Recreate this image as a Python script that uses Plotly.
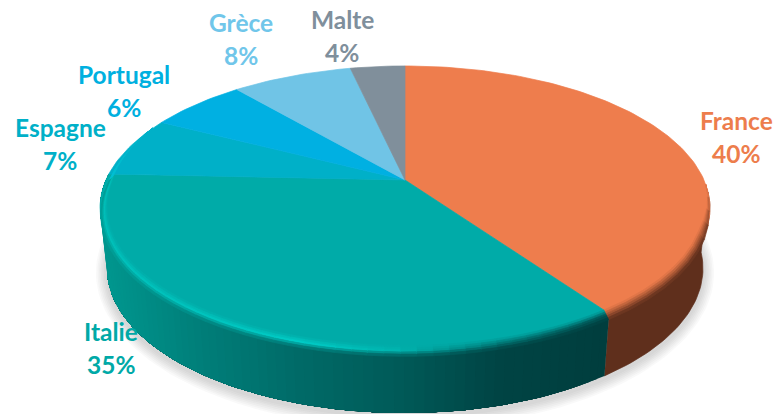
import numpy as np
import plotly.graph_objects as go

# --- data (unrounded estimates; labels show them rounded) ---
categories = ["France", "Italie", "Espagne", "Portugal", "Grèce", "Malte"]
shares = [40.3, 35.4, 6.9, 6.2, 7.7, 3.5]

# --- style ---
top_colors = [(238, 125, 77), (0, 171, 168), (0, 176, 200), (0, 176, 226), (112, 196, 230), (128, 143, 155)]
label_colors = ["#ed7d4c", "#00a9a7", "#00b0c8", "#00b0e0", "#70c6ea", "#7f8f9c"]
label_pos = [(736, 120), (111, 331), (60, 127), (124, 74), (241, 22), (342, 19)]
LINE_GAP = 33
FONT = "Lato, Carlito, Calibri, sans-serif"
CX, CY, R, B, P = 405.0, 180.0, 299.0, 136.5, 0.197
DEPTH = 60.0


def project(theta, r=1.0, z=0.0):
    s, c = np.sin(theta), np.cos(theta)
    f = 1.0 / (1.0 + P * r * c)
    x = CX + R * r * s * f * (1 - 0.023 * z)
    y = CY - B * r * c * f * (1 + 0.018 * z) + DEPTH * z
    return x, y


def rgb(c):
    return "rgb(%d,%d,%d)" % tuple(int(round(v)) for v in c)


def mix(a, b, t):
    return tuple(a[i] + (b[i] - a[i]) * t for i in range(3))


def ramp(x, xs, cols):
    return tuple(float(np.interp(x, xs, [c[i] for c in cols])) for i in range(3))


TEAL_X = [105, 200, 300, 400, 500, 600]
TEAL_SIDE = [(0, 150, 142), (0, 126, 121), (0, 106, 103), (0, 90, 88), (0, 68, 68), (0, 62, 62)]
TEAL_HI = [(0, 192, 186), (0, 196, 190), (0, 204, 198), (0, 180, 175), (0, 120, 118), (0, 90, 90)]
BROWN = (95, 47, 28)


def side_color(i, x):
    if i == 0:
        return BROWN
    return ramp(x, TEAL_X, TEAL_SIDE)


def hi_color(i, x):
    if i == 0:
        return mix(top_colors[0], BROWN, 0.5)
    if i == 2:
        return (0, 196, 212)
    return ramp(x, TEAL_X, TEAL_HI)


fig = go.Figure()


def poly(xs, ys, col, outline=True):
    fig.add_trace(go.Scatter(
        x=np.round(xs, 2), y=np.round(ys, 2), mode="lines", fill="toself",
        fillcolor=col, line=dict(color=col, width=0.7) if outline else dict(width=0),
        hoverinfo="skip", showlegend=False))


total = sum(shares)
edges = np.cumsum([0] + shares) / total * 2 * np.pi

# soft shadow beneath the disc
th = np.linspace(0, 2 * np.pi, 180)
for k in range(7, 0, -1):
    sx, sy = project(th, 1.0, 1.0)
    mx = sx.mean()
    my = sy.mean()
    grow = k * 1.6
    poly(mx + (sx - mx) * (1 + grow / 300), my + 3 + (sy - my) * (1 + grow / 145),
         "rgba(90,90,90,0.035)", outline=False)

# side wall: France in one flat piece, Italie as a gradient painted in overlapping steps
g = np.linspace(np.radians(95), edges[1], 40)
tx, ty = project(g, 1.0, 0.0)
bx, by = project(g, 1.0, 1.0)
poly(np.r_[tx, bx[::-1], tx[0]], np.r_[ty, by[::-1], ty[0]], rgb(BROWN))

g = np.linspace(edges[1], edges[2], 81)
tx, ty = project(g, 1.0, 0.0)
bx, by = project(g, 1.0, 1.0)
for k in range(len(g) - 1):
    poly(np.r_[tx[k:], bx[k:][::-1], tx[k]], np.r_[ty[k:], by[k:][::-1], ty[k]],
         rgb(side_color(1, (tx[k] + tx[k + 1]) / 2)), outline=False)

# flat top slices
for i in range(len(shares)):
    g = np.linspace(edges[i], edges[i + 1], max(8, int(shares[i] * 3)))
    ax, ay = project(g)
    poly(np.r_[CX, ax, CX], np.r_[CY, ay, CY], rgb(top_colors[i]))


def weight(i, theta):
    c = np.cos(theta)
    if i == 0:
        return float(np.clip((-0.05 - c) / 0.3, 0, 1))
    return float(np.clip((0.4 - c) / 0.4, 0, 1))


# bevel strip around the rim
BANDS = 5
for i in (0, 1, 2):
    a0, a1 = edges[i], edges[i + 1]
    n = 50 if i == 1 else 30 if i == 0 else 8
    g = np.linspace(a0, a1, n + 1)
    for a, b in zip(g[:-1], g[1:]):
        wa, wb = weight(i, a), weight(i, b)
        if wa == 0 and wb == 0:
            continue
        wm = (wa + wb) / 2
        xm = project((a + b) / 2)[0]
        for k in range(BANDS):
            u0, u1 = k / BANDS, (k + 1) / BANDS
            um = (u0 + u1) / 2
            hi = hi_color(i, xm)
            if um < 0.5:
                col = mix(top_colors[i], hi, um * 2)
            else:
                col = mix(hi, side_color(i, xm) if i < 2 else hi, (um - 0.5) * 2)
            col = mix(top_colors[i], col, wm)
            pts = [project(a, 1 - 0.022 * wa * (1 - u0), 0.1 * wa * u0),
                   project(b, 1 - 0.022 * wb * (1 - u0), 0.1 * wb * u0),
                   project(b, 1 - 0.022 * wb * (1 - u1), 0.1 * wb * u1),
                   project(a, 1 - 0.022 * wa * (1 - u1), 0.1 * wa * u1)]
            pts.append(pts[0])
            poly([p[0] for p in pts], [p[1] for p in pts], rgb(col))

# labels
for name, share, col, (lx, ly) in zip(categories, shares, label_colors, label_pos):
    for text, yy in ((name, ly), ("%d%%" % int(share + 0.5), ly + LINE_GAP)):
        fig.add_annotation(x=lx, y=yy, text="<b>%s</b>" % text, showarrow=False,
                           xanchor="center", yanchor="middle",
                           font=dict(family=FONT, size=24.5, color=col))

fig.update_layout(
    width=775, height=414, autosize=False,
    margin=dict(l=0, r=0, t=0, b=0),
    paper_bgcolor="white", plot_bgcolor="white",
    showlegend=False, hovermode=False,
    xaxis=dict(range=[0, 775], visible=False, fixedrange=True),
    yaxis=dict(range=[414, 0], visible=False, fixedrange=True),
)
fig.write_html("out.html", config={"displayModeBar": False},
               post_script="document.body.style.margin='0';document.body.style.overflow='hidden';")
